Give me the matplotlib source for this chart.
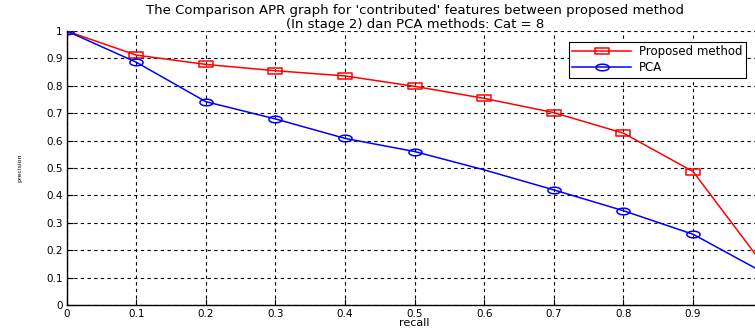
import numpy as np
import matplotlib
matplotlib.use("Agg")
import matplotlib.pyplot as plt
from matplotlib.path import Path

# values
recall = [0.0, 0.1, 0.2, 0.3, 0.4, 0.5, 0.6, 0.7, 0.8, 0.9, 1.0]
proposed = [1.0, 0.912, 0.878, 0.855, 0.836, 0.798, 0.754, 0.702, 0.627, 0.487, 0.15]
pca = [1.0, 0.886, 0.742, 0.679, 0.608, 0.560, 0.493, 0.420, 0.344, 0.258, 0.12]
pca_marks = [0, 1, 2, 3, 4, 5, 7, 8, 9, 10]  # no circle drawn at 0.6 in the original

xticks = [0, 0.1, 0.2, 0.3, 0.4, 0.5, 0.6, 0.7, 0.8, 0.9, 1]
yticks = [0, 0.1, 0.2, 0.3, 0.4, 0.5, 0.6, 0.7, 0.8, 0.9, 1]
# the "1" at the far right falls outside the cropped picture
xlabels = ["0", "0.1", "0.2", "0.3", "0.4", "0.5", "0.6", "0.7", "0.8", "0.9", ""]
ylabels = ["0", "0.1", "0.2", "0.3", "0.4", "0.5", "0.6", "0.7", "0.8", "0.9", "1"]

# squashed marker shapes (the original picture is stretched sideways)
rect = Path([(-1, -0.45), (1, -0.45), (1, 0.45), (-1, 0.45), (-1, -0.45)],
            [Path.MOVETO, Path.LINETO, Path.LINETO, Path.LINETO, Path.CLOSEPOLY])
t = np.linspace(0, 2 * np.pi, 60)
ellipse = Path(np.column_stack([np.cos(t), 0.5 * np.sin(t)]))

fig = plt.figure(figsize=(7.55, 3.29), dpi=100)
ax = fig.add_axes([0.0883, 0.073, 1.0102 - 0.0883, 0.9058 - 0.073])

ax.plot(recall, proposed, color="#ff0000", lw=1.1, marker=rect, ms=9.5,
        mfc="none", mec="#ff0000", mew=1.1, label="Proposed method")
ax.plot(recall, pca, color="#0000ff", lw=1.1, marker=ellipse, ms=9.5,
        mfc="none", mec="#0000ff", mew=1.1, markevery=pca_marks, label="PCA")

ax.set_xlim(0, 1)
ax.set_ylim(0, 1)
ax.set_xticks(xticks)
ax.set_xticklabels(xlabels, fontsize=7.5)
ax.set_yticks(yticks)
ax.set_yticklabels(ylabels, fontsize=7.5)
ax.tick_params(direction="in", length=4, width=0.8, pad=3)
ax.grid(True, color="black", linestyle=(0, (3, 3)), linewidth=0.8)

ax.spines["top"].set_visible(False)
ax.spines["right"].set_visible(False)
ax.spines["left"].set_linewidth(1.0)
ax.spines["bottom"].set_linewidth(1.0)

ax.set_xlabel("recall", fontsize=8, labelpad=-1)
ax.set_ylabel("precision", fontsize=4.5, labelpad=17)
ax.set_title("The Comparison APR graph for 'contributed' features between proposed method\n"
             "(In stage 2) dan PCA methods: Cat = 8", fontsize=9.5, linespacing=1.05, pad=0.5)

leg = ax.legend(loc="upper left", bbox_to_anchor=(563 / 755, 1 - 36 / 329),
                bbox_transform=fig.transFigure, fontsize=8.5, frameon=True,
                fancybox=False, edgecolor="black", framealpha=1,
                handlelength=5, borderpad=0.3, labelspacing=0.25, handletextpad=0.6)
leg.get_frame().set_linewidth(0.8)

fig.savefig("out.png", dpi=100)
